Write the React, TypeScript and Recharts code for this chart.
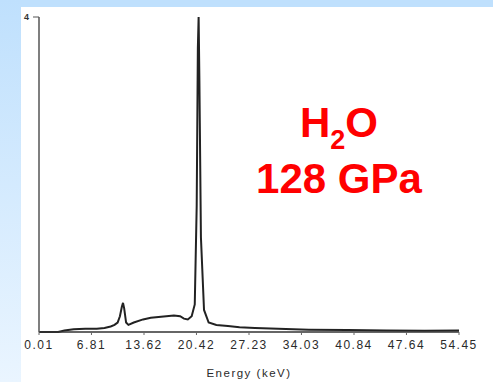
import { Label, Line, LineChart, XAxis, YAxis } from "recharts"

const energy = [
  0.01, 2.5, 3.3, 4.5, 6.0, 7.5, 8.5, 9.3, 9.8, 10.2, 10.5, 10.75, 10.9, 11.05, 11.3, 11.6, 12.3, 13.5, 14.5,
  15.5, 16.5, 17.5, 18.3, 18.8, 19.3, 19.8, 20.2, 20.45, 20.6, 20.7, 20.8, 21.0, 21.4, 22.0, 23.0, 24.5, 26.0,
  28.0, 31.0, 35.0, 40.0, 45.0, 50.0, 54.45,
]
const counts = [
  0, 0, 0.02, 0.035, 0.04, 0.04, 0.05, 0.07, 0.09, 0.12, 0.2, 0.32, 0.37, 0.3, 0.12, 0.09, 0.12, 0.16, 0.18,
  0.19, 0.2, 0.21, 0.2, 0.17, 0.16, 0.2, 0.35, 1.6, 3.6, 4.0, 3.2, 1.2, 0.28, 0.12, 0.09, 0.075, 0.06, 0.05,
  0.04, 0.03, 0.025, 0.02, 0.015, 0.02,
]
const xTicks = [0.01, 6.81, 13.62, 20.42, 27.23, 34.03, 40.84, 47.64, 54.45]
const yTicks = [4]

const data = energy.map((e, i) => ({ e, c: counts[i] }))

const axisFont = "'Liberation Sans', Arial, sans-serif"

export default function App() {
  return (
    <div style={{ position: "absolute", left: 0, top: 0, width: 493, height: 382, background: "#fff", overflow: "hidden" }}>
      <div style={{ position: "absolute", left: 0, top: 0, width: 493, height: 7, background: "#bfe0fd" }} />
      <div
        style={{
          position: "absolute",
          left: 0,
          top: 0,
          width: 21,
          height: 382,
          background: "linear-gradient(to bottom, #bfe0fd, #eaf5ff)",
        }}
      />
      <div style={{ position: "absolute", left: 0, top: 0 }}>
        <LineChart width={493} height={382} data={data} margin={{ top: 17, right: 34, bottom: 0, left: 0 }}>
          <XAxis
            dataKey="e"
            type="number"
            domain={[0.01, 54.45]}
            ticks={xTicks}
            tickFormatter={(v: number) => v.toFixed(2)}
            height={50}
            tickSize={3}
            tickMargin={5}
            axisLine={{ stroke: "#333", strokeWidth: 1.5 }}
            tickLine={{ stroke: "#666" }}
            tick={{ fill: "#2a2a2a", fontSize: 12, fontFamily: axisFont, letterSpacing: 1.5 }}
            interval={0}
          >
            <Label
              value="Energy (keV)"
              position="insideBottom"
              offset={5}
              style={{ fill: "#2a2a2a", fontSize: 11.5, fontFamily: axisFont, letterSpacing: 1.5 }}
            />
          </XAxis>
          <YAxis
            type="number"
            domain={[0, 4]}
            ticks={yTicks}
            width={39}
            tickSize={6}
            tickMargin={4}
            axisLine={{ stroke: "#555", strokeWidth: 1.5 }}
            tickLine={{ stroke: "#555" }}
            tick={{ fill: "#333", fontSize: 9, fontWeight: "bold", fontFamily: axisFont }}
          />
          <Line
            dataKey="c"
            type="linear"
            stroke="#222"
            strokeWidth={2}
            dot={false}
            isAnimationActive={false}
          />
        </LineChart>
      </div>
      <svg
        width={493}
        height={382}
        style={{ position: "absolute", left: 0, top: 0, pointerEvents: "none" }}
      >
        <g fill="#ff0000" fontFamily="'Liberation Sans', Arial, sans-serif" fontWeight="bold" textAnchor="middle">
          <text x={339} y={137} fontSize={42}>
            H
            <tspan fontSize={27} dy={12}>
              2
            </tspan>
            <tspan dy={-12}>O</tspan>
          </text>
          <text x={339} y={193} fontSize={42}>
            128 GPa
          </text>
        </g>
      </svg>
    </div>
  )
}
